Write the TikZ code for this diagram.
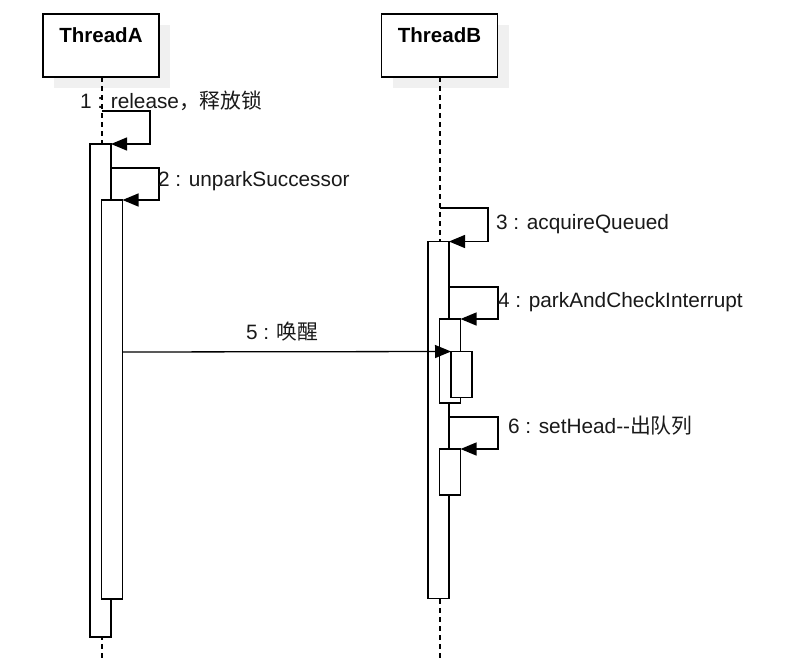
\documentclass[tikz,border=0pt]{standalone}
\usepackage{fontspec}
\setmainfont{Liberation Sans}
\newfontfamily\cjk{Noto Sans CJK SC}
\usetikzlibrary{arrows.meta}
\begin{document}
\begin{tikzpicture}[x=1pt,y=-1pt,
  every node/.style={inner sep=0pt,outer sep=0pt},
  headbox/.style={draw=black,line width=1.3pt,fill=white,minimum width=116pt,minimum height=63pt},
  shadowbox/.style={fill=black!6,minimum width=116pt,minimum height=63pt},
  headtext/.style={anchor=base,font=\fontsize{20.5}{24}\selectfont\bfseries},
  lifeline/.style={draw=black,line width=1.2pt,dash pattern=on 5pt off 4pt},
  actbox/.style={draw=black,line width=1.3pt,fill=white,minimum width=21pt},
  msg/.style={draw=black,line width=1.3pt,-{Triangle[length=16pt,width=13pt]}},
  lbl/.style={anchor=base west,font=\fontsize{20.8}{24}\selectfont,text=black!90}]
\useasboundingbox (0,0) rectangle (794,661);
\fill[white] (0,0) rectangle (794,661);
% heads
\node[shadowbox] (sa) at (112,56.5) {};
\node[shadowbox] (sb) at (450.5,56.5) {};
\coordinate (la0) at (102,77);
\coordinate (la1) at (102,661);
\coordinate (lb0) at (440,77);
\coordinate (lb1) at (440,661);
\draw[lifeline] (la0) -- (la1);
\draw[lifeline] (lb0) -- (lb1);
\node[headbox] (ha) at (101,45.5) {};
\node[headbox] (hb) at (439.5,45.5) {};
\node[headtext] (hat) at (101,42) {ThreadA};
\node[headtext] (hbt) at (439.5,42) {ThreadB};
% activations A
\node[actbox,minimum height=493pt] (a1) at (100.5,390.5) {};
\node[actbox,minimum height=399pt] (a2) at (112,399.5) {};
% activations B
\node[actbox,minimum height=357pt] (b1) at (438.5,420) {};
\node[actbox,minimum height=84pt] (b2) at (450,361) {};
\node[actbox,minimum height=46pt] (b3) at (461.5,374.5) {};
\node[actbox,minimum height=46pt] (b4) at (450,472) {};
% messages
\coordinate (m1s) at (102,111);
\coordinate (m1r) at (150,111);
\draw[msg] (m1s) -- (m1r) |- (a1.north east);
\coordinate (m2s) at (111,168);
\coordinate (m2r) at (159,168);
\draw[msg] (m2s) -- (m2r) |- (a2.north east);
\coordinate (m3s) at (440,208);
\coordinate (m3r) at (488,208);
\draw[msg] (m3s) -- (m3r) |- (b1.north east);
\coordinate (m4s) at (449,287);
\coordinate (m4r) at (498,287);
\draw[msg] (m4s) -- (m4r) |- (b2.north east);
\coordinate (m5s) at (122.5,352);
\draw[msg] (m5s) -- (b3.north west);
\coordinate (m6s) at (449,417);
\coordinate (m6r) at (498,417);
\draw[msg] (m6s) -- (m6r) |- (b4.north east);
% labels
\node[lbl] (t1) at (80,108) {1 : release{\cjk ，释放锁}};
\node[lbl] (t2) at (158,186) {2 : unparkSuccessor};
\node[lbl] (t3) at (496,229) {3 : acquireQueued};
\node[lbl] (t4) at (498,307) {4 : parkAndCheckInterrupt};
\node[lbl] (t5) at (246,339) {5 : {\cjk 唤醒}};
\node[lbl] (t6) at (508,433) {6 : setHead-{}-{\cjk 出队列}};
\end{tikzpicture}
\end{document}
